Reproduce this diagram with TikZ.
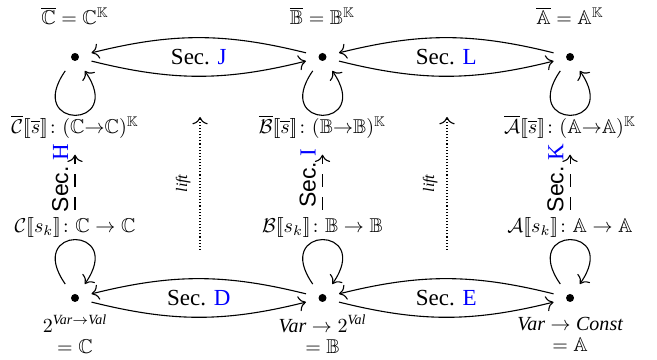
\documentclass[tikz,border=0pt]{standalone}
\usepackage{amsmath,amssymb}
\usepackage{fontspec}
\setmainfont{Liberation Serif}
\setsansfont{Liberation Sans}
\usetikzlibrary{arrows.meta,positioning,calc}
\definecolor{sec}{HTML}{0000FF}
\definecolor{txt}{HTML}{000000}
\newcommand{\lsem}{[\![}
\newcommand{\rsem}{]\!]}

\begin{document}
\begin{tikzpicture}[
  >={To[scale=1.3]},
  dotnode/.style={circle, fill=txt, inner sep=0pt, minimum size=4pt, outer sep=6.5pt},
  arr/.style={->, line width=0.55pt, color=txt},
  loopdn/.style={arr, out=-125, in=-55, looseness=9.5},
  loopup/.style={arr, out=125, in=55, looseness=9.5},
  dasharr/.style={->, line width=0.55pt, dash pattern=on 6.5pt off 5pt, shorten <=4pt, shorten >=8pt},
  liftarr/.style={->, line width=0.55pt, densely dotted},
  lbl/.style={font=\fontsize{10}{12}\selectfont, inner sep=0pt, align=center},
  seclbl/.style={font=\fontsize{11.5}{14}\selectfont, inner sep=0pt},
  vsec/.style={sloped, above, inner sep=3pt, font=\fontsize{11.5}{13}\selectfont},
  liftlbl/.style={sloped, above, inner sep=4.5pt, font=\fontsize{8}{10}\selectfont\itshape},
]
\useasboundingbox (0,0) rectangle (11.545,6.326);

% abstract domains (top) and concrete ones (bottom)
\node[dotnode] (cT) at (1.318,5.325) {};
\node[dotnode] (bT) at (5.667,5.325) {};
\node[dotnode] (aT) at (10.017,5.325) {};
\node[dotnode] (cB) at (1.318,1.090) {};
\node[dotnode] (bB) at (5.667,1.090) {};
\node[dotnode] (aB) at (10.017,1.090) {};

\node[lbl] (cTop) at (1.318,6.045) {$\overline{\mathbb{C}} = \mathbb{C}^{\mathbb{K}}$};
\node[lbl] (bTop) at (5.667,6.045) {$\overline{\mathbb{B}} = \mathbb{B}^{\mathbb{K}}$};
\node[lbl] (aTop) at (10.017,6.045) {$\overline{\mathbb{A}} = \mathbb{A}^{\mathbb{K}}$};

\node[lbl] (cBar) at (1.318,4.095) {$\overline{\mathcal{C}}\lsem\overline{s}\rsem\colon (\mathbb{C}{\to}\mathbb{C})^{\mathbb{K}}$};
\node[lbl] (bBar) at (5.667,4.095) {$\overline{\mathcal{B}}\lsem\overline{s}\rsem\colon (\mathbb{B}{\to}\mathbb{B})^{\mathbb{K}}$};
\node[lbl] (aBar) at (10.017,4.095) {$\overline{\mathcal{A}}\lsem\overline{s}\rsem\colon (\mathbb{A}{\to}\mathbb{A})^{\mathbb{K}}$};

\node[lbl] (cSk) at (1.318,2.320) {$\mathcal{C}\lsem s_k\rsem\colon \mathbb{C}\to\mathbb{C}$};
\node[lbl] (bSk) at (5.667,2.320) {$\mathcal{B}\lsem s_k\rsem\colon \mathbb{B}\to\mathbb{B}$};
\node[lbl] (aSk) at (10.017,2.320) {$\mathcal{A}\lsem s_k\rsem\colon \mathbb{A}\to\mathbb{A}$};

\node[lbl] (cVal) at (1.318,0.455) {$2^{\textit{Var}\to\textit{Val}}$\\[-1.5pt]$=\mathbb{C}$};
\node[lbl] (bVal) at (5.667,0.455) {$\textit{Var}\to 2^{\textit{Val}}$\\[-1.5pt]$=\mathbb{B}$};
\node[lbl] (aVal) at (10.017,0.455) {$\textit{Var}\to\textit{Const}$\\[-1.5pt]$=\mathbb{A}$};

% galois connections
\draw[arr] (bT) to[bend right=14] (cT);
\draw[arr] (cT) to[bend right=14] (bT);
\draw[arr] (aT) to[bend right=14] (bT);
\draw[arr] (bT) to[bend right=14] (aT);
\draw[arr] (bB) to[bend right=14] (cB);
\draw[arr] (cB) to[bend right=14] (bB);
\draw[arr] (aB) to[bend right=14] (bB);
\draw[arr] (bB) to[bend right=14] (aB);

\node[seclbl] (secJ) at ($(cT)!0.5!(bT)$) {Sec. \textcolor{sec}{J}};
\node[seclbl] (secL) at ($(bT)!0.5!(aT)$) {Sec. \textcolor{sec}{L}};
\node[seclbl] (secD) at ($(cB)!0.5!(bB)$) {Sec. \textcolor{sec}{D}};
\node[seclbl] (secE) at ($(bB)!0.5!(aB)$) {Sec. \textcolor{sec}{E}};

% transfer functions
\draw[loopdn] (cT) to (cT);
\draw[loopdn] (bT) to (bT);
\draw[loopdn] (aT) to (aT);
\draw[loopup] (cB) to (cB);
\draw[loopup] (bB) to (bB);
\draw[loopup] (aB) to (aB);

\draw[dasharr] (cSk) -- node[vsec] {{\sffamily Sec.}~\textcolor{sec}{H}} (cBar);
\draw[dasharr] (bSk) -- node[vsec] {{\sffamily Sec.}~\textcolor{sec}{I}} (bBar);
\draw[dasharr] (aSk) -- node[vsec] {{\sffamily Sec.}~\textcolor{sec}{K}} (aBar);

% lifting
\coordinate (lftLa) at (3.515,1.933);
\coordinate (lftLb) at (3.515,4.270);
\coordinate (lftRa) at (7.855,1.933);
\coordinate (lftRb) at (7.855,4.270);
\draw[liftarr] (lftLa) -- node[liftlbl] {lift} (lftLb);
\draw[liftarr] (lftRa) -- node[liftlbl] {lift} (lftRb);

\end{tikzpicture}
\end{document}
